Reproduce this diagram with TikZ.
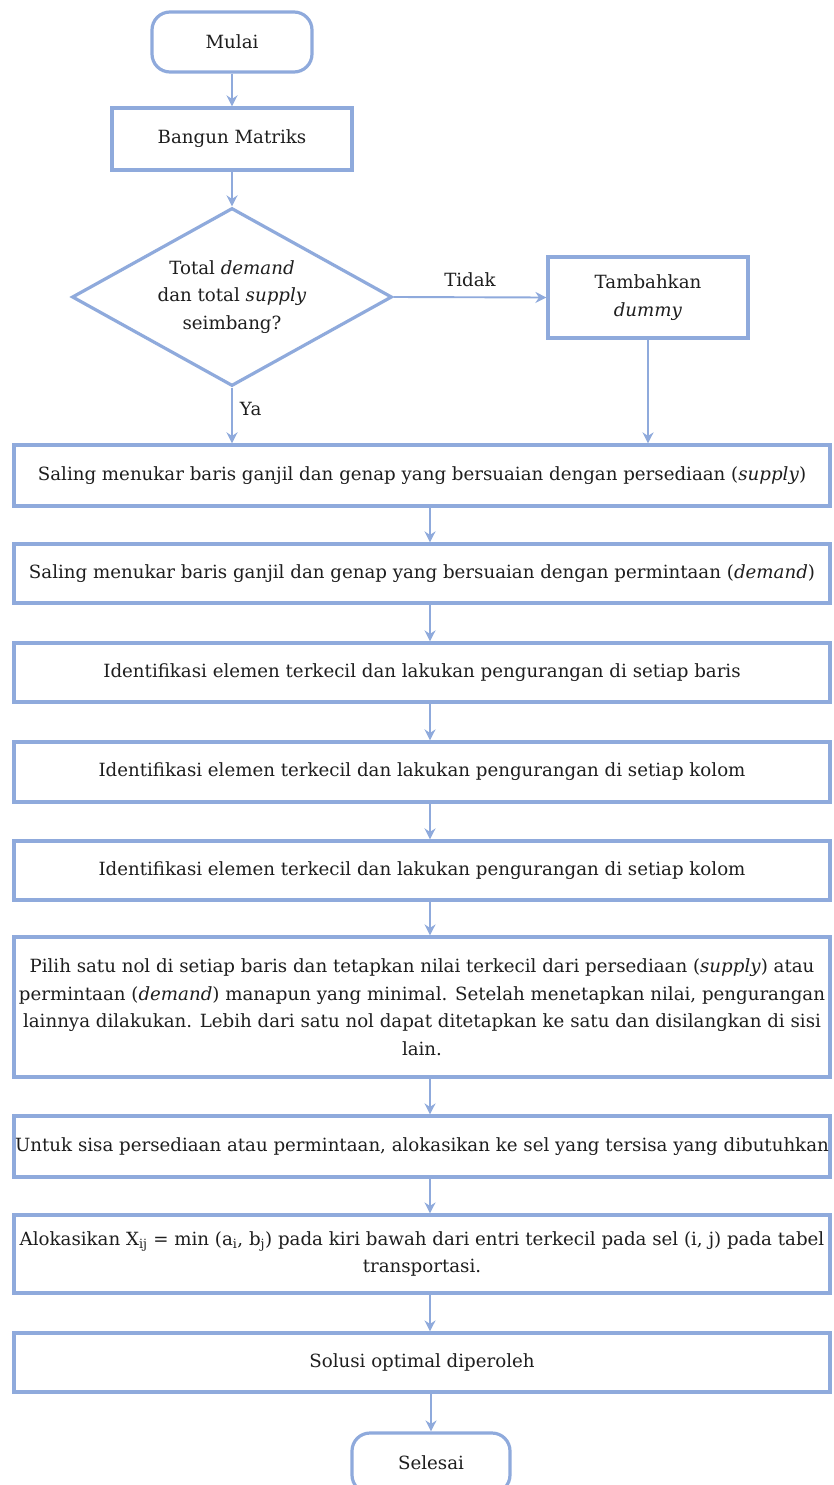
\documentclass[tikz,border=0pt]{standalone}
\usepackage{fontspec}
\setmainfont{DejaVu Serif}
\usetikzlibrary{shapes.geometric,arrows.meta}
\definecolor{bord}{RGB}{143,170,220}
\definecolor{txt}{RGB}{30,30,30}
\begin{document}
\begin{tikzpicture}[x=1pt,y=-1pt,
  font=\fontsize{18.2}{27.5}\selectfont, text=txt,
  box/.style={draw=bord, line width=3.2pt, rectangle, inner sep=0pt, align=center},
  term/.style={box, rounded corners=18pt},
  wide/.style={box, minimum width=816pt},
  arr/.style={draw=bord, line width=1.9pt, -{Stealth[length=11pt,width=11pt]}},
  lbl/.style={inner sep=0pt}]
\useasboundingbox (0,0) rectangle (834,1485);
\clip (0,0) rectangle (834,1485);
\fill[white] (0,0) rectangle (834,1485);

\node[term, minimum width=160pt, minimum height=60pt] (mulai) at (232,42) {Mulai};
\node[box, minimum width=240pt, minimum height=62pt] (bangun) at (232,139) {Bangun Matriks};
\node[box, shape=diamond, shape aspect=1.8, minimum width=320pt, minimum height=178pt] (dia) at (232,297)
  {Total \emph{demand}\\ dan total \emph{supply}\\ seimbang?};
\node[box, minimum width=200pt, minimum height=81pt] (dum) at (648,297.5) {Tambahkan\\ \emph{dummy}};

\node[wide, minimum height=61pt] (b1) at (422,475.5)
  {Saling menukar baris ganjil dan genap yang bersuaian dengan persediaan (\emph{supply})};
\node[wide, minimum height=59pt] (b2) at (422,573.5)
  {Saling menukar baris ganjil dan genap yang bersuaian dengan permintaan (\emph{demand})};
\node[wide, minimum height=59pt] (b3) at (422,672.5)
  {Identifikasi elemen terkecil dan lakukan pengurangan di setiap baris};
\node[wide, minimum height=60pt] (b4) at (422,772)
  {Identifikasi elemen terkecil dan lakukan pengurangan di setiap kolom};
\node[wide, minimum height=59pt] (b5) at (422,870.5)
  {Identifikasi elemen terkecil dan lakukan pengurangan di setiap kolom};
\node[wide, minimum height=140pt] (b6) at (422,1007)
  {Pilih satu nol di setiap baris dan tetapkan nilai terkecil dari persediaan (\emph{supply}) atau\\
   permintaan (\emph{demand}) manapun yang minimal. Setelah menetapkan nilai, pengurangan\\
   lainnya dilakukan. Lebih dari satu nol dapat ditetapkan ke satu dan disilangkan di sisi\\
   lain.};
\node[wide, minimum height=61pt] (b7) at (422,1146.5)
  {Untuk sisa persediaan atau permintaan, alokasikan ke sel yang tersisa yang dibutuhkan};
\node[wide, minimum height=78pt] (b8) at (422,1254)
  {Alokasikan X\textsubscript{ij} = min (a\textsubscript{i}, b\textsubscript{j}) pada kiri bawah dari entri terkecil pada sel (i, j) pada tabel\\
   transportasi.};
\node[wide, minimum height=59pt] (b9) at (422,1362.5) {Solusi optimal diperoleh};
\node[term, minimum width=158pt, minimum height=60pt] (sel) at (431,1463) {Selesai};

\coordinate (col) at (430,0);

\draw[arr] (mulai) -- (bangun);
\draw[arr] (bangun.south) -- (dia.north);
\draw[arr] (dia.east) -- node[lbl, above=10pt] {Tidak} (dum.west);
\draw[arr] (dia.south) -- node[lbl, right=7pt, pos=0.38] {Ya} (dia.south |- b1.north);
\draw[arr] (dum.south) -- (dum.south |- b1.north);
\draw[arr] (b1.south -| col) -- (b2.north -| col);
\draw[arr] (b2.south -| col) -- (b3.north -| col);
\draw[arr] (b3.south -| col) -- (b4.north -| col);
\draw[arr] (b4.south -| col) -- (b5.north -| col);
\draw[arr] (b5.south -| col) -- (b6.north -| col);
\draw[arr] (b6.south -| col) -- (b7.north -| col);
\draw[arr] (b7.south -| col) -- (b8.north -| col);
\draw[arr] (b8.south -| col) -- (b9.north -| col);
\draw[arr] (b9.south -| sel.north) -- (sel.north);
\end{tikzpicture}
\end{document}
